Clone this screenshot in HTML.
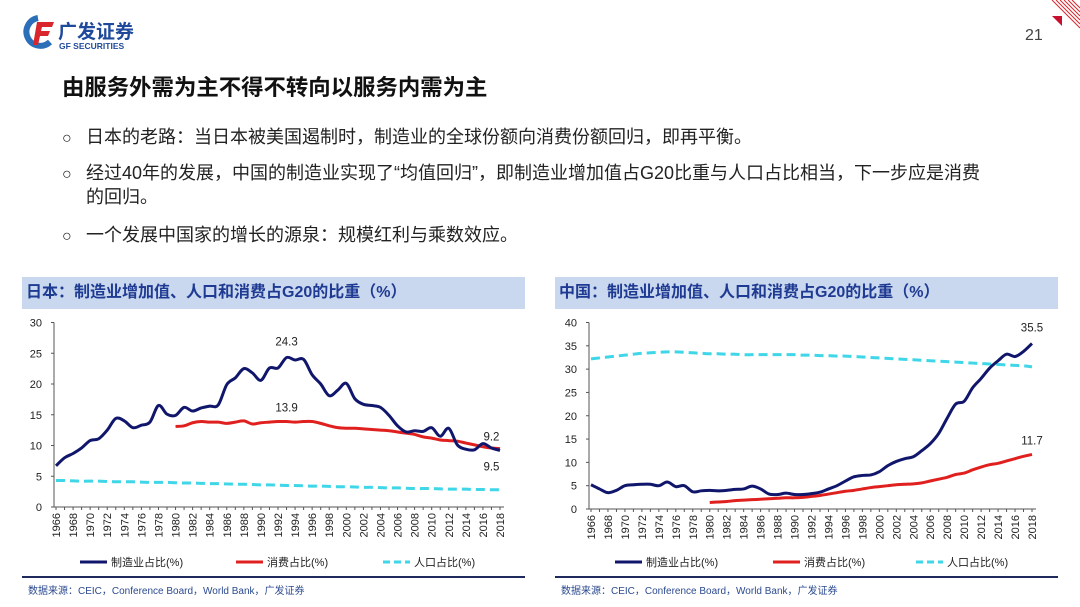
<!DOCTYPE html>
<html><head><meta charset="utf-8">
<style>
body{margin:0;width:1080px;height:607px;background:#fff;overflow:hidden;position:relative;font-family:"Liberation Sans","Noto Sans CJK SC",sans-serif;}
.abs{position:absolute;}
.title{left:62px;top:70px;font-size:22.4px;font-weight:bold;color:#111;}
.bullet{left:62px;font-size:18px;color:#222;line-height:23px;white-space:nowrap;}
.bullet .o{display:inline-block;width:24px;font-size:16px;}
.hdr{height:32px;background:#c9d8ee;color:#1f3a93;font-weight:bold;font-size:16px;line-height:32px;padding-left:4px;box-sizing:border-box;}
.src{font-size:10px;color:#2b4a8f;}
.rule{height:2px;background:#1f2a5c;}
</style></head><body>
<div class="abs" style="left:20px;top:14px;width:130px;height:36px;">
<svg width="36" height="36" style="position:absolute;left:0;top:0"><path d="M18 4 A14 14 0 1 0 30 28" fill="none" stroke="#2b6fb8" stroke-width="6"/><path d="M17 8 H34 L32 13 H22 L21 17 H30 L28 22 H20 L18 31 H13 Z" fill="#d9262c"/></svg>
<div class="abs" style="left:38px;top:3px;font-size:19px;font-weight:bold;color:#1f4a9c;">广发证券</div>
<div class="abs" style="left:39px;top:27px;font-size:8.5px;font-weight:bold;color:#1f4a9c;white-space:nowrap;">GF SECURITIES</div>
</div>
<div class="abs" style="left:1025px;top:27px;font-size:16px;color:#444;">21</div>
<svg class="abs" style="left:1040px;top:0" width="40" height="30"><polygon points="12,16 22,16 22,26" fill="#c8102e"/><g stroke="#d9262c" stroke-width="1"><line x1="12" y1="0" x2="40" y2="28"/><line x1="16" y1="0" x2="40" y2="24"/><line x1="20" y1="0" x2="40" y2="20"/><line x1="24" y1="0" x2="40" y2="16"/><line x1="28" y1="0" x2="40" y2="12"/><line x1="32" y1="0" x2="40" y2="8"/></g></svg>
<div class="abs title">由服务外需为主不得不转向以服务内需为主</div>
<div class="abs bullet" style="top:126px;"><span class="o">○</span>日本的老路：当日本被美国遏制时，制造业的全球份额向消费份额回归，即再平衡。</div>
<div class="abs bullet" style="top:162px;"><span class="o">○</span>经过40年的发展，中国的制造业实现了“均值回归”，即制造业增加值占G20比重与人口占比相当，下一步应是消费<br><span class="o"></span>的回归。</div>
<div class="abs bullet" style="top:224px;"><span class="o">○</span>一个发展中国家的增长的源泉：规模红利与乘数效应。</div>

<div class="abs hdr" style="left:22px;top:277px;width:503px;">日本：制造业增加值、人口和消费占G20的比重（%）</div>
<div class="abs hdr" style="left:555px;top:277px;width:503px;">中国：制造业增加值、人口和消费占G20的比重（%）</div>
<div class="abs rule" style="left:22px;top:576px;width:503px;"></div>
<div class="abs rule" style="left:555px;top:576px;width:503px;"></div>
<div class="abs src" style="left:28px;top:582px;">数据来源：CEIC，Conference Board，World Bank，广发证券</div>
<div class="abs src" style="left:561px;top:582px;">数据来源：CEIC，Conference Board，World Bank，广发证券</div>

<svg id="jp" class="abs" style="left:0;top:310px" width="540" height="265"></svg>
<svg id="cn" class="abs" style="left:540px;top:310px" width="540" height="265"></svg>

<script>
const jpYears0 = 1966;
const jpMfg = [6.7,8.0,8.7,9.6,10.8,11.1,12.5,14.4,14.0,12.9,13.3,13.8,16.5,15.1,14.9,16.2,15.6,16.1,16.4,16.6,19.9,21.0,22.5,21.8,20.6,22.6,22.6,24.3,23.9,24.0,21.5,20.0,18.1,19.0,20.1,17.6,16.7,16.5,16.2,14.9,13.2,12.2,12.4,12.3,12.9,11.5,12.8,10.1,9.4,9.3,10.3,9.6,9.2];
const jpCons = [13.1,13.2,13.7,13.9,13.8,13.8,13.6,13.8,14.0,13.5,13.7,13.8,13.9,13.9,13.8,13.9,13.9,13.6,13.2,12.9,12.8,12.8,12.7,12.6,12.5,12.4,12.2,12.0,11.8,11.4,11.2,10.9,10.8,10.7,10.4,10.1,9.8,9.6,9.5];
const jpPop = [4.3,4.3,4.25,4.2,4.2,4.2,4.15,4.1,4.1,4.1,4.05,4.0,4.0,4.0,3.95,3.9,3.9,3.85,3.8,3.8,3.75,3.7,3.7,3.65,3.6,3.6,3.55,3.5,3.5,3.45,3.4,3.4,3.35,3.3,3.3,3.25,3.2,3.2,3.15,3.1,3.1,3.05,3.0,3.0,3.0,2.95,2.9,2.9,2.9,2.85,2.85,2.8,2.8];
const jpYTicks = [0,5,10,15,20,25,30];
const jpLabels = [{year:1993,v:24.3,t:"24.3",dy:-12},{year:1993,v:13.9,t:"13.9",dy:-10},{year:2017,v:9.2,t:"9.2",dy:-10},{year:2017,v:9.5,t:"9.5",dy:22}];

const cnYears0 = 1966;
const cnMfg = [5.2,4.3,3.5,4.0,5.0,5.2,5.3,5.3,5.0,5.8,4.8,5.0,3.7,3.9,4.0,3.9,4.0,4.2,4.3,4.9,4.3,3.2,3.1,3.4,3.1,3.1,3.3,3.6,4.3,5.0,6.0,6.9,7.2,7.3,8.0,9.3,10.2,10.8,11.2,12.5,14.0,16.2,19.5,22.5,23.1,26.0,28.0,30.2,31.8,33.2,32.7,33.8,35.5];
const cnCons = [1.4,1.5,1.6,1.8,1.9,2.0,2.1,2.2,2.3,2.4,2.4,2.5,2.7,2.9,3.2,3.5,3.8,4.0,4.3,4.6,4.8,5.0,5.2,5.3,5.4,5.6,6.0,6.4,6.8,7.4,7.7,8.4,9.0,9.5,9.8,10.3,10.8,11.3,11.7];
const cnPop = [32.2,32.4,32.6,32.8,33.0,33.2,33.4,33.5,33.6,33.7,33.7,33.6,33.5,33.4,33.3,33.3,33.2,33.2,33.1,33.1,33.1,33.1,33.1,33.1,33.1,33.0,33.0,32.9,32.9,32.8,32.8,32.7,32.6,32.5,32.4,32.3,32.2,32.1,32.0,31.9,31.8,31.7,31.6,31.5,31.4,31.3,31.2,31.1,31.0,30.9,30.8,30.7,30.5];
const cnYTicks = [0,5,10,15,20,25,30,35,40];
const cnLabels = [{year:2018,v:35.5,t:"35.5",dy:-12},{year:2018,v:11.7,t:"11.7",dy:-10}];

const NS="http://www.w3.org/2000/svg";
function mk(svg,tag,attrs){const e=document.createElementNS(NS,tag);for(const k in attrs)e.setAttribute(k,attrs[k]);svg.appendChild(e);return e;}

function draw(svg,o){
  const x=y=>o.x0+(y-o.y0yr)*(o.x1-o.x0)/52;
  const y=v=>o.py0-(v/o.ymax)*(o.py0-o.py1);
  const ax=mk(svg,'line',{x1:o.x0-2,y1:o.py0,x2:o.x1+4,y2:o.py0,stroke:'#555','stroke-width':1});
  
  const ay=mk(svg,'line',{x1:o.x0-2,y1:o.py0,x2:o.x0-2,y2:o.py1,stroke:'#555','stroke-width':1});
  
  o.ticks.forEach(t=>{
    mk(svg,'line',{x1:o.x0-5,y1:y(t),x2:o.x0-2,y2:y(t),stroke:'#555'});
    const tx=mk(svg,'text',{x:o.x0-14,y:y(t)+4,'text-anchor':'end','font-size':11,fill:'#222'});tx.textContent=t;
    
  });
  for(let yr=1966;yr<=2018;yr++){
    mk(svg,'line',{x1:x(yr),y1:o.py0,x2:x(yr),y2:o.py0+3,stroke:'#555'});
    if(yr%2===0){const tx=mk(svg,'text',{x:0,y:0,'font-size':11,fill:'#222','text-anchor':'end',transform:`translate(${x(yr)+4},${o.py0+6}) rotate(-90)`});tx.textContent=yr;
    }
  }
  function line(arr,start,color,dash,name){
    const pts=arr.map((v,i)=>[x(start+i),y(v)]);
    let d='M'+pts[0].join(',');
    for(let i=1;i<pts.length;i++){const p0=pts[Math.max(0,i-2)],p1=pts[i-1],p2=pts[i],p3=pts[Math.min(pts.length-1,i+1)];
      const c1=[p1[0]+(p2[0]-p0[0])/6,p1[1]+(p2[1]-p0[1])/6],c2=[p2[0]-(p3[0]-p1[0])/6,p2[1]-(p3[1]-p1[1])/6];
      d+=`C${c1.join(',')} ${c2.join(',')} ${p2.join(',')}`;}
    const p=mk(svg,'path',{d,fill:'none',stroke:color,'stroke-width':3,'stroke-dasharray':dash||'none'});
    
  }
  line(o.pop,1966,'#3fd7e8','9,5',o.prefix+'population-line');
  line(o.cons,1980,'#e0201f',null,o.prefix+'consumption-line');
  line(o.mfg,1966,'#10166b',null,o.prefix+'manufacturing-line');
  o.labels.forEach(l=>{const t=mk(svg,'text',{x:x(l.year),y:y(l.v)+l.dy,'text-anchor':'middle','font-size':11.5,fill:'#222'});t.textContent=l.t;
    });
  const leg=[[o.lx[0],'#10166b',null,'制造业占比(%)'],[o.lx[1],'#e0201f',null,'消费占比(%)'],[o.lx[2],'#3fd7e8','7,4','人口占比(%)']];
  leg.forEach(l=>{const g=mk(svg,'g',{});
    const ln=document.createElementNS(NS,'line');[['x1',l[0]],['y1',252],['x2',l[0]+27],['y2',252],['stroke',l[1]],['stroke-width',3]].forEach(a=>ln.setAttribute(a[0],a[1]));if(l[2])ln.setAttribute('stroke-dasharray',l[2]);g.appendChild(ln);
    const t=document.createElementNS(NS,'text');t.setAttribute('x',l[0]+31);t.setAttribute('y',256);t.setAttribute('font-size',11);t.setAttribute('fill','#222');t.textContent=l[3];g.appendChild(t);});
}
draw(document.getElementById('jp'),{x0:56,x1:500,y0yr:1966,py0:197,py1:12.5,ymax:30,ticks:jpYTicks,mfg:jpMfg,cons:jpCons,pop:jpPop,labels:jpLabels,lx:[80,236,383],prefix:'japan-'});
draw(document.getElementById('cn'),{x0:51,x1:492,y0yr:1966,py0:199,py1:12.5,ymax:40,ticks:cnYTicks,mfg:cnMfg,cons:cnCons,pop:cnPop,labels:cnLabels,lx:[75,233,376],prefix:'china-'});
</script>
</body></html>
